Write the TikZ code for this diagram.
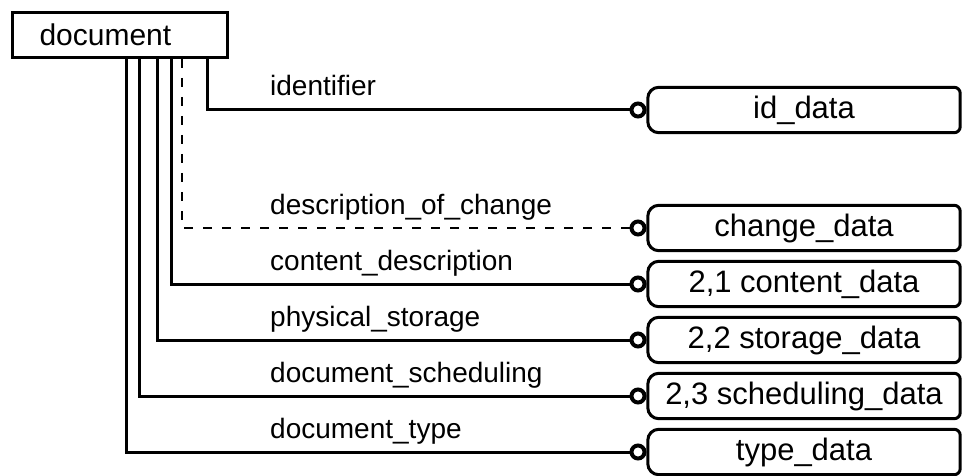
\documentclass[tikz,border=0pt]{standalone}
\usepackage{fontspec}
\setmainfont{Liberation Sans}
\newcommand\dataoutline[1]{%
  \draw[boxline] ([xshift=-6pt]#1.north east) arc[start angle=90,end angle=0,radius=6pt]
    -- ([yshift=6pt]#1.south east) arc[start angle=0,end angle=-90,radius=6pt]
    -- ([xshift=11pt]#1.south west) arc[start angle=270,end angle=180,radius=11pt]
    -- ([yshift=-11pt]#1.north west) arc[start angle=180,end angle=90,radius=11pt]
    -- cycle;}
\begin{document}
\begin{tikzpicture}[x=1pt,y=1pt,
  conn/.style={line width=3pt},
  dconn/.style={line width=2.6pt, dash pattern=on 9pt off 10pt},
  lbl/.style={anchor=base west, inner sep=0pt, font=\fontsize{28}{30}\selectfont},
  databox/.style={minimum width=312pt, minimum height=45pt, inner sep=0pt, font=\fontsize{31}{33}\selectfont},
  ring/.style={circle, draw, line width=4pt, minimum size=13pt, inner sep=0pt, fill=white},
  boxline/.style={line width=3pt}]
\useasboundingbox (0,0) rectangle (962,475);
% entity
\node[draw, line width=3pt, minimum height=45pt, text width=161pt, inner xsep=27pt, inner ysep=0pt,
  align=left, font=\fontsize{30}{32}\selectfont, anchor=south west] (doc) at (11,416) {document};
% data boxes
\node[databox] (b1) at (804,365) {id\_data};
\node[databox] (b2) at (804,247) {change\_data};
\node[databox] (b3) at (804,191) {2,1 content\_data};
\node[databox] (b4) at (804,135) {2,2 storage\_data};
\node[databox] (b5) at (804,79) {2,3 scheduling\_data};
\node[databox] (b6) at (804,23) {type\_data};
\dataoutline{b1}\dataoutline{b2}\dataoutline{b3}\dataoutline{b4}\dataoutline{b5}\dataoutline{b6}
% rings
\node[ring] (r1) at (638,365) {};
\node[ring] (r2) at (638,247) {};
\node[ring] (r3) at (638,191) {};
\node[ring] (r4) at (638,135) {};
\node[ring] (r5) at (638,79) {};
\node[ring] (r6) at (638,23) {};
% connectors
\draw[conn] ([xshift=196pt]doc.south west) |- (r1.west);
\draw[dconn] ([xshift=171pt]doc.south west) |- (r2.west);
\draw[conn] ([xshift=160pt]doc.south west) |- (r3.west);
\draw[conn] ([xshift=146pt]doc.south west) |- (r4.west);
\draw[conn] ([xshift=128pt]doc.south west) |- (r5.west);
\draw[conn] ([xshift=115pt]doc.south west) |- (r6.west);
% labels
\node[lbl] (l1) at (270,379) {identifier};
\node[lbl] (l2) at (270,261) {description\_of\_change};
\node[lbl] (l3) at (270,205) {content\_description};
\node[lbl] (l4) at (270,149) {physical\_storage};
\node[lbl] (l5) at (270,93) {document\_scheduling};
\node[lbl] (l6) at (270,37) {document\_type};
\end{tikzpicture}
\end{document}
